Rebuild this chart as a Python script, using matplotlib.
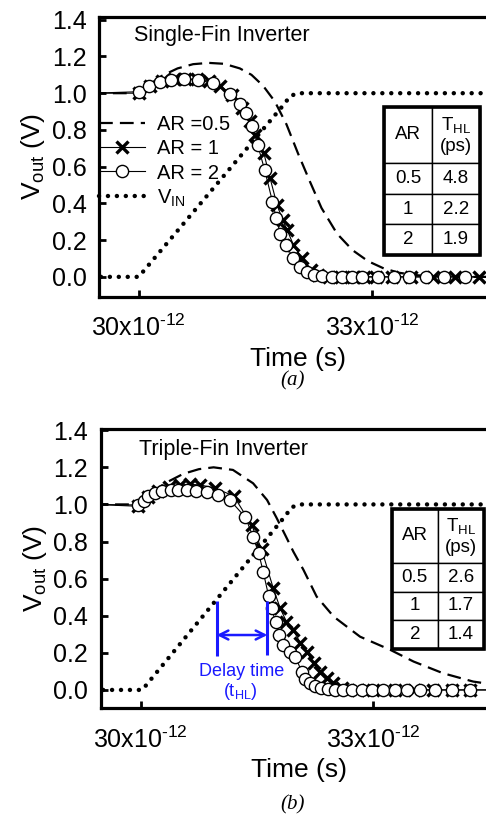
import matplotlib
matplotlib.use("Agg")
import matplotlib.pyplot as plt
from matplotlib.patches import Rectangle

plt.rcParams["font.family"] = ["Liberation Sans", "DejaVu Sans"]
plt.rcParams["mathtext.fontset"] = "custom"
plt.rcParams["mathtext.rm"] = "Liberation Sans"
plt.rcParams["mathtext.it"] = "Liberation Sans:italic"
plt.rcParams["mathtext.bf"] = "Liberation Sans:bold"

# ---- data (time in ps, voltage in V) -------------------------------------
# (a) single-fin inverter
vin_t_a = [29.4, 30.0, 31.85, 31.95, 32.05, 34.7]
vin_v_a = [0.0, 0.0, 0.93, 0.985, 1.0, 1.0]

ar05_t_a = [29.4, 30.0, 30.15, 30.3, 30.5, 30.7, 30.9, 31.1, 31.3, 31.45, 31.6,
            31.75, 31.9, 32.05, 32.2, 32.35, 32.55, 32.75, 32.95, 33.15, 33.35,
            33.6, 34.0, 34.7]
ar05_v_a = [1.0, 1.0, 1.05, 1.095, 1.135, 1.158, 1.165, 1.16, 1.135, 1.1, 1.04,
            0.955, 0.83, 0.67, 0.52, 0.375, 0.235, 0.145, 0.085, 0.046, 0.022,
            0.008, 0.0, 0.0]

ar1_t_a = [29.4, 30.0, 30.15, 30.3, 30.45, 30.6, 30.75, 30.9, 31.05, 31.2, 31.33,
           31.43, 31.5, 31.61, 31.69, 31.78, 31.85, 31.91, 31.99, 32.1, 32.21,
           32.3, 32.45, 32.6, 32.75, 32.9, 33.05, 33.25, 33.5, 33.78, 34.07,
           34.37, 34.7]
ar1_v_a = [1.0, 1.0, 1.04, 1.065, 1.075, 1.078, 1.076, 1.065, 1.04, 0.99, 0.92,
           0.85, 0.772, 0.672, 0.536, 0.39, 0.31, 0.254, 0.173, 0.10, 0.036,
           0.01, 0.0, 0.0, 0.0, 0.0, 0.0, 0.0, 0.0, 0.0, 0.0, 0.0, 0.0]

ar2_t_a = [29.4, 30.0, 30.13, 30.27, 30.41, 30.58, 30.76, 30.96, 31.18, 31.30,
           31.38, 31.46, 31.53, 31.62, 31.72, 31.77, 31.82, 31.89, 31.99, 32.08,
           32.16, 32.26, 32.36, 32.49, 32.61, 32.74, 32.87, 33.08, 33.28, 33.47,
           33.69, 33.92, 34.2, 34.7]
ar2_v_a = [1.0, 1.008, 1.04, 1.063, 1.072, 1.076, 1.072, 1.054, 0.994, 0.941,
           0.89, 0.821, 0.718, 0.581, 0.409, 0.318, 0.236, 0.173, 0.10, 0.055,
           0.027, 0.01, 0.003, 0.0, 0.0, 0.0, 0.0, 0.0, 0.0, 0.0, 0.0, 0.0,
           0.0, 0.0]

thl_ar = ["0.5", "1", "2"]
thl_a = ["4.8", "2.2", "1.9"]

# (b) triple-fin inverter
vin_t_b = [29.4, 30.02, 31.85, 31.95, 32.05, 34.7]
vin_v_b = [0.0, 0.0, 0.93, 0.985, 1.0, 1.0]

ar05_t_b = [29.4, 30.0, 30.15, 30.34, 30.55, 30.75, 30.94, 31.19, 31.45, 31.63,
            31.75, 31.87, 31.97, 32.1, 32.27, 32.49, 32.83, 33.22, 33.52, 33.9,
            34.29, 34.7]
ar05_v_b = [1.0, 1.0, 1.07, 1.12, 1.165, 1.19, 1.2, 1.186, 1.114, 1.024, 0.93,
            0.83, 0.745, 0.647, 0.503, 0.395, 0.287, 0.216, 0.153, 0.09, 0.045,
            0.02]

ar1_t_b = [29.4, 29.97, 30.1, 30.22, 30.36, 30.51, 30.64, 30.77, 30.96, 31.2,
           31.43, 31.56, 31.71, 31.8, 31.88, 31.97, 32.06, 32.14, 32.23, 32.31,
           32.4, 32.48, 32.6, 32.8, 33.0, 33.28, 33.52, 33.77, 34.01, 34.25, 34.7]
ar1_v_b = [1.0, 0.99, 1.04, 1.075, 1.095, 1.105, 1.108, 1.105, 1.087, 1.046,
           0.89, 0.758, 0.548, 0.44, 0.368, 0.323, 0.252, 0.206, 0.144, 0.099,
           0.063, 0.036, 0.01, 0.0, 0.0, 0.0, 0.0, 0.0, 0.0, 0.0, 0.0]

ar2_t_b = [29.4, 29.97, 30.04, 30.1, 30.19, 30.28, 30.39, 30.48, 30.6, 30.71,
           30.85, 31.0, 31.15, 31.35, 31.45, 31.52, 31.58, 31.65, 31.69, 31.74,
           31.78, 31.84, 31.93, 31.99, 32.08, 32.12, 32.18, 32.25, 32.33, 32.42,
           32.51, 32.61, 32.72, 32.85, 32.98, 33.13, 33.28, 33.43, 33.6, 33.8,
           34.01, 34.25, 34.7]
ar2_v_b = [1.0, 0.997, 1.02, 1.046, 1.064, 1.072, 1.078, 1.078, 1.078, 1.073,
           1.069, 1.05, 1.024, 0.931, 0.826, 0.74, 0.638, 0.507, 0.44, 0.365,
           0.296, 0.243, 0.207, 0.18, 0.099, 0.06, 0.04, 0.022, 0.01, 0.003,
           0.0, 0.0, 0.0, 0.0, 0.0, 0.0, 0.0, 0.0, 0.0, 0.0, 0.0, 0.0, 0.0]

thl_b = ["2.6", "1.7", "1.4"]

# delay-time marker (b): t at V_IN = 50 % and at V_out = 50 %
delay_t = [30.98, 31.634]

xtick_vals = [30, 33]
xtick_labels = ["30x10$^{\\mathregular{\u201012}}$",
                "33x10$^{\\mathregular{\u201012}}$"]
ytick_vals = [0.0, 0.2, 0.4, 0.6, 0.8, 1.0, 1.2, 1.4]

FS = 18


def draw_panel(ax, vin_t, vin_v, a05_t, a05_v, a1_t, a1_v, a2_t, a2_v):
    l05, = ax.plot(a05_t, a05_v, color="k", lw=1.6, ls=(0, (6.2, 3.2)),
                   label="AR =0.5", zorder=3)
    l1, = ax.plot(a1_t, a1_v, color="k", lw=0.8, marker="x", ms=9, mew=2.4,
                  markevery=slice(1, -1), label="AR = 1", zorder=4)
    l2, = ax.plot(a2_t, a2_v, color="k", lw=0.8, marker="o", ms=8.8, mew=1.0,
                  mfc="white", mec="k", markevery=slice(1, -1),
                  label="AR = 2", zorder=5)
    lin, = ax.plot(vin_t, vin_v, color="k", lw=3.2, ls=(0, (0.01, 2.0)),
                   dash_capstyle="round", label="V$_{\\mathregular{IN}}$",
                   zorder=2)
    ax.set_ylim(-0.108, 1.415)
    ax.set_xticks(xtick_vals)
    ax.set_xticklabels(xtick_labels)
    ax.set_yticks(ytick_vals)
    ax.set_yticklabels([f"{v:.1f}" for v in ytick_vals])
    ax.tick_params(direction="in", length=5, width=2, labelsize=FS)
    ax.tick_params(axis="y", pad=9)
    ax.tick_params(axis="x", pad=13)
    for s in ax.spines.values():
        s.set_linewidth(2.3)
    ax.set_xlabel("Time (s)", fontsize=FS + 1, labelpad=4)
    ax.set_ylabel("V$_{\\mathregular{out}}$ (V)", fontsize=FS + 1, labelpad=3)
    return [l05, l1, l2, lin]


def draw_table(ax, values, bbox):
    rows = [["AR", "T$_{\\mathregular{HL}}$\n(ps)"]] + \
        [[a, v] for a, v in zip(thl_ar, values)]
    tb = ax.table(cellText=rows, cellLoc="center", bbox=bbox, zorder=6)
    tb.auto_set_font_size(False)
    tb.set_fontsize(13.5)
    for (r, c), cell in tb.get_celld().items():
        cell.set_linewidth(1.0)
        cell.set_facecolor("white")
        cell.set_height(1.85 if r == 0 else 1.0)
    ax.add_patch(Rectangle((bbox[0], bbox[1]), bbox[2], bbox[3],
                           transform=ax.transAxes, fill=False, lw=2.6,
                           zorder=7, clip_on=False))


fig = plt.figure(figsize=(4.86, 8.16), dpi=100)

# ---- (a) -------------------------------------------------------------------
axa = fig.add_axes([0.2037, 0.6364, 0.818, 0.3428])
handles = draw_panel(axa, vin_t_a, vin_v_a, ar05_t_a, ar05_v_a,
                     ar1_t_a, ar1_v_a, ar2_t_a, ar2_v_a)
axa.set_xlim(29.49, 34.6)
axa.text(29.936, 1.312, "Single-Fin Inverter", fontsize=15.5, va="center",
         ha="left")
axa.legend(handles=handles, loc="upper left", bbox_to_anchor=(0.0, 0.648),
           frameon=False, fontsize=14.5, handlelength=2.3, handletextpad=0.6,
           labelspacing=0.25, borderpad=0, borderaxespad=0, numpoints=1)
draw_table(axa, thl_a, [0.7168, 0.149, 0.2414, 0.5303])
fig.text(0.601, 1 - 381 / 816, "(a)", fontsize=15, ha="center", va="center",
         family="Liberation Serif", style="italic")

# ---- (b) -------------------------------------------------------------------
axb = fig.add_axes([0.2072, 0.132, 0.816, 0.3419])
draw_panel(axb, vin_t_b, vin_v_b, ar05_t_b, ar05_v_b,
           ar1_t_b, ar1_v_b, ar2_t_b, ar2_v_b)
axb.set_xlim(29.484, 34.6)
axb.set_ylim(-0.099, 1.405)
axb.text(29.98, 1.294, "Triple-Fin Inverter", fontsize=15.5, va="center",
         ha="left")
draw_table(axb, thl_b, [0.734, 0.2115, 0.2328, 0.5018])

blue = "#1a1aff"
axb.vlines(delay_t, [0.183, 0.189], [0.481, 0.481], color=blue, lw=2.2,
           zorder=6)
axb.annotate("", xy=(delay_t[1], 0.296), xytext=(delay_t[0], 0.296),
             arrowprops=dict(arrowstyle="<->", color=blue, lw=1.8,
                             mutation_scale=16, shrinkA=0, shrinkB=0),
             zorder=6)
axb.text(31.30, 0.099, "Delay time", color=blue, fontsize=13,
         ha="center", va="center")
axb.text(31.28, -0.009, "(t$_{\\mathregular{HL}}$)", color=blue,
         fontsize=13, ha="center", va="center")
fig.text(0.601, 1 - 805 / 816, "(b)", fontsize=15, ha="center", va="center",
         family="Liberation Serif", style="italic")

fig.savefig("out.png", dpi=100)
